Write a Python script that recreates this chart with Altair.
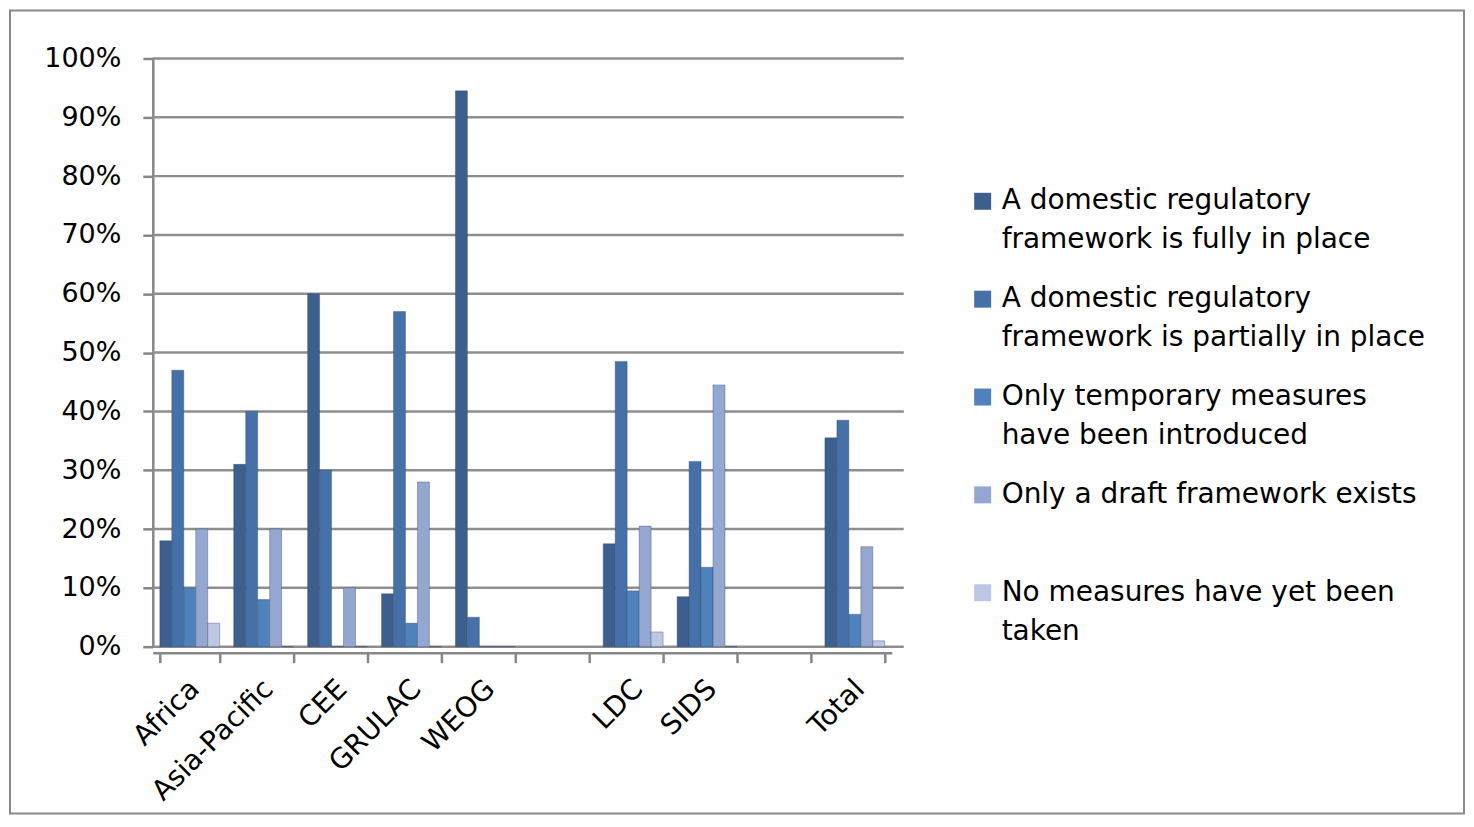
import altair as alt
import pandas as pd

# ---- data ----
regions = ["Africa", "Asia-Pacific", "CEE", "GRULAC", "WEOG", "LDC", "SIDS", "Total"]
# category slots on the axis (two empty slots separate the groups)
slots = ["Africa", "Asia-Pacific", "CEE", "GRULAC", "WEOG", " ", "LDC", "SIDS", "  ", "Total"]

series = [
    "A domestic regulatory framework is fully in place",
    "A domestic regulatory framework is partially in place",
    "Only temporary measures have been introduced",
    "Only a draft framework exists",
    "No measures have yet been taken",
]
legend_labels = [
    "A domestic regulatory\nframework is fully in place",
    "A domestic regulatory\nframework is partially in place",
    "Only temporary measures\nhave been introduced",
    "Only a draft framework exists",
    "No measures have yet been\ntaken",
]
colors = ["#3c5f8e", "#4571a8", "#4f81bd", "#94a7d0", "#bcc8e3"]

fully = [18, 31, 60, 9, 94.5, 17.5, 8.5, 35.5]
partially = [47, 40, 30, 57, 5, 48.5, 31.5, 38.5]
temporary = [10, 8, 0, 4, 0, 9.5, 13.5, 5.5]
draft = [20, 20, 10, 28, 0, 20.5, 44.5, 17]
no_measures = [4, 0, 0, 0, 0, 2.5, 0, 1]

y_ticks = [0, 0.1, 0.2, 0.3, 0.4, 0.5, 0.6, 0.7, 0.8, 0.9, 1.0]

# ---- tables built from the arrays ----
rows = []
for s, vals in zip(series, [fully, partially, temporary, draft, no_measures]):
    for r, v in zip(regions, vals):
        rows.append({"region": r, "series": s, "value": v / 100})
df = pd.DataFrame(rows)
grid_df = pd.DataFrame({"value": y_ticks})
legend_df = pd.DataFrame({"series": series, "label": legend_labels})

FONT = "DejaVu Sans"
AXIS_GRAY = "#868686"

yscale = alt.Scale(domain=[0, 1], range=[637, 48])
color = alt.Color("series:N", scale=alt.Scale(domain=series, range=colors), legend=None)

grid = alt.Chart(grid_df).mark_rule(color="#8e8e8e", strokeWidth=2.5).encode(
    y=alt.Y("value:Q", scale=yscale, axis=None),
    x=alt.value(143),
    x2=alt.value(895),
)

bars = alt.Chart(df).mark_bar(stroke="#2a4466", strokeWidth=0.6, strokeOpacity=0.6).encode(
    x=alt.X(
        "region:N",
        sort=slots,
        scale=alt.Scale(domain=slots, range=[143, 883], paddingInner=0.19, paddingOuter=0.095),
        axis=alt.Axis(
            title=None,
            orient="bottom",
            offset=-161,
            labelAngle=-45,
            labelAlign="right",
            labelBaseline="top",
            labelOffset=-5,
            labelPadding=12,
            labelFont=FONT,
            labelFontSize=28,
            labelColor="#000000",
            labelOverlap=False,
            tickBand="extent",
            tickSize=10,
            tickColor=AXIS_GRAY,
            tickWidth=2.5,
            domainColor=AXIS_GRAY,
            domainWidth=2.5,
            grid=False,
        ),
    ),
    xOffset=alt.XOffset("series:N", sort=series, scale=alt.Scale(domain=series)),
    y=alt.Y(
        "value:Q",
        scale=yscale,
        axis=alt.Axis(
            title=None,
            orient="left",
            offset=-143,
            values=y_ticks,
            format=".0%",
            labelFont=FONT,
            labelFontSize=27,
            labelColor="#000000",
            labelPadding=22,
            tickSize=10,
            tickColor=AXIS_GRAY,
            tickWidth=2.5,
            domainColor=AXIS_GRAY,
            domainWidth=2.5,
            grid=False,
        ),
    ),
    color=color,
)

leg_y = alt.Y("series:N", sort=series,
              scale=alt.Scale(domain=series, range=[191, 583], padding=0), axis=None)

leg_sym = alt.Chart(legend_df).mark_square(size=289, opacity=1).encode(
    x=alt.value(974),
    y=leg_y,
    color=color,
)
leg_text = alt.Chart(legend_df).mark_text(
    align="left", baseline="middle", lineBreak="\n", lineHeight=39,
    font=FONT, fontSize=28, color="#000000",
).encode(
    x=alt.value(993),
    y=leg_y,
    text="label:N",
)

chart = (
    alt.layer(grid, bars, leg_sym, leg_text)
    .resolve_scale(y="independent", x="independent")
    .properties(width=1456, height=804, padding=2, autosize=alt.AutoSizeParams(type="none"),
                background="white")
    .configure_view(stroke="#8a8a8a", strokeWidth=2)
)

chart.save("out.html", embed_options={"renderer": "svg", "actions": False})
